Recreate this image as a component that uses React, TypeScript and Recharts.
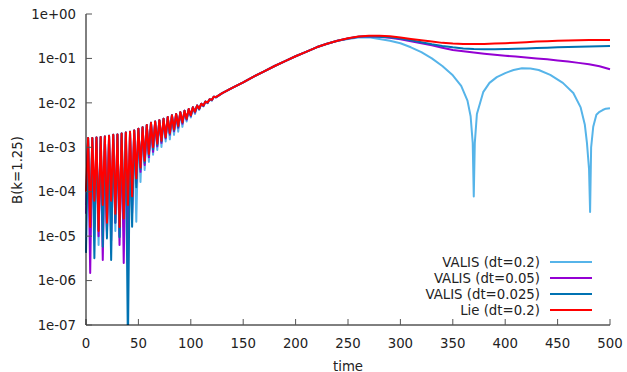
import { LineChart, Line, XAxis, YAxis, Legend } from 'recharts';

const FONT = '"DejaVu Sans", sans-serif';
const TEXT = '#222';
const FONT_SIZE = 13.3;

// axis ticks
const X_TICKS = [0, 50, 100, 150, 200, 250, 300, 350, 400, 450, 500];
const Y_TICKS = [1e-7, 1e-6, 1e-5, 1e-4, 1e-3, 1e-2, 1e-1, 1];
const Y_TICK_LABELS = ['1e-07', '1e-06', '1e-05', '1e-04', '1e-03', '1e-02', '1e-01', '1e+00'];

// early oscillation: troughs and crests of |B|
const TROUGH_TIME = [0, 4, 8, 12, 16, 20, 24, 28, 32, 36, 40, 44, 48, 52, 56, 60,
  64, 68, 72, 76, 80, 84, 88, 92, 96, 100, 104, 108, 112, 116, 120, 124];
const PEAK_TIME = [2, 6, 10, 14, 18, 22, 26, 30, 34, 38, 42, 46, 50, 54, 58, 62,
  66, 70, 74, 78, 82, 86, 90, 94, 98, 102, 106, 110, 114, 118, 122];
const PEAK_B = [1.62e-3, 1.62e-3, 1.66e-3, 1.7e-3, 1.74e-3, 1.82e-3, 1.91e-3, 1.95e-3, 2.04e-3, 2.14e-3,
  2.24e-3, 2.4e-3, 2.63e-3, 2.82e-3, 3.16e-3, 3.55e-3, 3.8e-3, 4.07e-3, 4.37e-3, 4.79e-3,
  5.25e-3, 5.62e-3, 6.17e-3, 6.61e-3, 7.24e-3, 7.94e-3, 8.71e-3, 9.55e-3, 1.07e-2, 1.2e-2, 1.38e-2];

const VALIS02_TROUGH = [5e-5, 1e-5, 2.5e-5, 6.3e-6, 3.2e-5, 1e-5, 2e-5, 1.3e-5, 1e-5, 1.6e-5, 2.5e-5, 5e-5,
  2.1e-5, 1.66e-4, 3.1e-4, 4.7e-4, 6.8e-4, 8.7e-4, 1.02e-3, 1.35e-3, 1.51e-3, 1.91e-3, 2.24e-3, 2.88e-3,
  3.8e-3, 4.68e-3, 5.62e-3, 6.92e-3, 8.32e-3, 9.77e-3, 1.12e-2, 1.32e-2];
const VALIS005_TROUGH = [3.2e-5, 1.48e-6, 1.6e-5, 1e-5, 2.9e-6, 1.26e-5, 7.9e-6, 2e-5, 6.3e-6, 2.5e-6, 2.5e-6, 3.3e-5,
  1.58e-4, 2.8e-4, 4e-4, 6e-4, 7.9e-4, 1.05e-3, 1.26e-3, 1.58e-3, 1.91e-3, 2.29e-3, 2.75e-3, 3.39e-3,
  4.17e-3, 5.01e-3, 6.03e-3, 7.24e-3, 8.51e-3, 1e-2, 1.15e-2, 1.33e-2];
const VALIS0025_TROUGH = [4.2e-6, 2.5e-5, 3.2e-6, 1.38e-5, 5.8e-6, 8.9e-6, 2.9e-6, 2e-5, 9.5e-6, 2.5e-5, 3.2e-8, 1.62e-5,
  1.26e-4, 3.2e-4, 4.5e-4, 6.6e-4, 8.9e-4, 1.12e-3, 1.35e-3, 1.66e-3, 2e-3, 2.4e-3, 2.88e-3, 3.55e-3,
  4.27e-3, 5.13e-3, 6.17e-3, 7.33e-3, 8.6e-3, 1.01e-2, 1.16e-2, 1.34e-2];
const LIE_TROUGH = [1e-4, 1.6e-5, 6.3e-5, 1.3e-5, 5e-5, 2e-5, 6.3e-5, 3.2e-5, 1.6e-5, 2.5e-5, 5e-5, 7.9e-5,
  2e-4, 3.5e-4, 5e-4, 7.1e-4, 1e-3, 1.2e-3, 1.41e-3, 1.7e-3, 2.09e-3, 2.51e-3, 3.02e-3, 3.63e-3,
  4.37e-3, 5.25e-3, 6.31e-3, 7.41e-3, 8.71e-3, 1.02e-2, 1.17e-2, 1.35e-2];

// linear growth phase, same for all runs
const MID_TIME = [130, 140, 150, 160, 170, 180, 190, 200, 210, 220, 230, 240];
const MID_B = [1.66e-2, 2.19e-2, 2.88e-2, 3.89e-2, 5.13e-2, 6.76e-2, 8.71e-2, 1.12e-1, 1.41e-1, 1.78e-1, 2.14e-1, 2.51e-1];

// saturation
const LATE_TIME = [250, 260, 270, 280, 290, 300, 310, 320, 330, 340, 350, 360, 370,
  380, 390, 400, 410, 420, 430, 440, 450, 460, 470, 480, 490, 500];
const VALIS005_LATE = [2.82e-1, 3.06e-1, 3.16e-1, 3.09e-1, 2.92e-1, 2.69e-1, 2.43e-1, 2.19e-1, 1.97e-1, 1.74e-1,
  1.55e-1, 1.45e-1, 1.36e-1, 1.28e-1, 1.21e-1, 1.15e-1, 1.1e-1, 1.05e-1, 1e-1, 9.55e-2,
  9e-2, 8.5e-2, 7.94e-2, 7.41e-2, 6.68e-2, 5.69e-2];
const VALIS0025_LATE = [2.82e-1, 3.06e-1, 3.16e-1, 3.09e-1, 2.99e-1, 2.82e-1, 2.57e-1, 2.32e-1, 2.09e-1, 1.91e-1,
  1.78e-1, 1.68e-1, 1.62e-1, 1.6e-1, 1.6e-1, 1.62e-1, 1.65e-1, 1.68e-1, 1.72e-1, 1.75e-1,
  1.78e-1, 1.81e-1, 1.83e-1, 1.85e-1, 1.87e-1, 1.91e-1];
const LIE_LATE = [2.85e-1, 3.13e-1, 3.24e-1, 3.25e-1, 3.16e-1, 2.95e-1, 2.75e-1, 2.57e-1, 2.4e-1, 2.24e-1,
  2.16e-1, 2.11e-1, 2.1e-1, 2.11e-1, 2.16e-1, 2.21e-1, 2.26e-1, 2.32e-1, 2.4e-1, 2.45e-1,
  2.51e-1, 2.54e-1, 2.58e-1, 2.6e-1, 2.6e-1, 2.6e-1];

// the dt=0.2 VALIS run collapses twice
const VALIS02_LATE_TIME = [250, 260, 270, 280, 290, 300, 310, 320, 330, 340, 350, 358, 364, 367, 369, 370, 371,
  373, 379, 385, 392, 400, 408, 416, 424, 432, 443, 455, 465, 472, 476, 478, 480, 481, 482, 484,
  487, 490, 493, 496, 500];
const VALIS02_LATE = [2.75e-1, 2.95e-1, 2.99e-1, 2.74e-1, 2.51e-1, 2.19e-1, 1.78e-1, 1.38e-1, 1e-1, 6.76e-2,
  4.17e-2, 2.4e-2, 1.12e-2, 5e-3, 1.26e-3, 7.8e-5, 1.26e-3, 5.6e-3, 1.74e-2, 2.82e-2,
  3.8e-2, 4.68e-2, 5.5e-2, 6.03e-2, 5.96e-2, 5.5e-2, 4.27e-2, 2.82e-2, 1.66e-2, 7.9e-3,
  3.2e-3, 1.26e-3, 3.2e-4, 3.5e-5, 1e-3, 2.9e-3, 5.4e-3, 6.3e-3, 6.9e-3, 7.4e-3, 7.6e-3];

const SERIES = [
  { key: 'v02', name: 'VALIS (dt=0.2)', color: '#56b4e9', trough: VALIS02_TROUGH, lateTime: VALIS02_LATE_TIME, late: VALIS02_LATE },
  { key: 'v005', name: 'VALIS (dt=0.05)', color: '#9400d3', trough: VALIS005_TROUGH, lateTime: LATE_TIME, late: VALIS005_LATE },
  { key: 'v0025', name: 'VALIS (dt=0.025)', color: '#0072b2', trough: VALIS0025_TROUGH, lateTime: LATE_TIME, late: VALIS0025_LATE },
  { key: 'lie', name: 'Lie (dt=0.2)', color: '#ff0000', trough: LIE_TROUGH, lateTime: LATE_TIME, late: LIE_LATE },
];

// merge everything into one table keyed on time
const rows = new Map<number, Record<string, number>>();
function put(times: number[], values: number[], key: string) {
  times.forEach((t, i) => {
    const r = rows.get(t) ?? { t };
    r[key] = values[i];
    rows.set(t, r);
  });
}
SERIES.forEach(s => {
  put(TROUGH_TIME, s.trough, s.key);
  put(PEAK_TIME, PEAK_B, s.key);
  put(MID_TIME, MID_B, s.key);
  put(s.lateTime, s.late, s.key);
});
const data = Array.from(rows.values()).sort((a, b) => a.t - b.t);

const order = (name: string) => SERIES.findIndex(s => s.name === name);

function KeyBox({ payload }: any) {
  const items = [...(payload ?? [])].sort((a: any, b: any) => order(a.value) - order(b.value));
  return (
    <div style={{ fontFamily: FONT, fontSize: FONT_SIZE, color: TEXT }}>
      {items.map((e: any) => (
        <div key={e.value} style={{ display: 'flex', alignItems: 'center', justifyContent: 'flex-end', height: 16 }}>
          <span>{e.value}</span>
          <span style={{ display: 'inline-block', width: 42, height: 2, background: e.color, marginLeft: 10 }} />
        </div>
      ))}
    </div>
  );
}

const tickStyle = { fill: TEXT, fontSize: FONT_SIZE, fontFamily: FONT };
const frame = { stroke: '#000', strokeWidth: 1 };
const tickLine = { stroke: '#555' };

export default function App() {
  return (
    <div style={{ position: 'absolute', left: 0, top: 0 }}>
      <LineChart width={627} height={372} data={data} margin={{ top: 14, right: 17, bottom: 0, left: 0 }}>
        <XAxis dataKey="t" type="number" domain={[0, 500]} ticks={X_TICKS} interval={0}
          height={47} tickSize={-6} tickMargin={20} tick={tickStyle} axisLine={frame} tickLine={tickLine}
          label={{ value: 'time', position: 'insideBottom', offset: 1.5, fill: TEXT, fontSize: FONT_SIZE, fontFamily: FONT }} />
        <XAxis xAxisId="top" orientation="top" dataKey="t" type="number" domain={[0, 500]} ticks={X_TICKS}
          interval={0} height={0} tickSize={-6} tickFormatter={() => ''} axisLine={frame} tickLine={tickLine} />
        <YAxis scale="log" type="number" domain={[1e-7, 1]} ticks={Y_TICKS} interval={0} allowDataOverflow
          width={86} tickSize={-6} tickMargin={16} tick={tickStyle} axisLine={frame} tickLine={tickLine}
          tickFormatter={(v: number) => Y_TICK_LABELS[Y_TICKS.indexOf(v)] ?? ''}
          label={{
            content: () => (
              <text x={17} y={170} transform="rotate(-90 17 170)" textAnchor="middle" dominantBaseline="central"
                fill={TEXT} fontSize={FONT_SIZE} fontFamily={FONT}>B(k=1.25)</text>
            ),
          }} />
        <YAxis yAxisId="right" orientation="right" scale="log" type="number" domain={[1e-7, 1]} ticks={Y_TICKS}
          interval={0} allowDataOverflow width={0} tickSize={-6} tickFormatter={() => ''} axisLine={frame} tickLine={tickLine} />
        {SERIES.map(s => (
          <Line key={s.key} dataKey={s.key} name={s.name} stroke={s.color} strokeWidth={2} dot={false}
            type="linear" connectNulls isAnimationActive={false} strokeLinejoin="round" />
        ))}
        <Legend layout="vertical" align="center" verticalAlign="middle" content={KeyBox}
          wrapperStyle={{ left: 392, top: 254, width: 200 }} />
      </LineChart>
    </div>
  );
}
